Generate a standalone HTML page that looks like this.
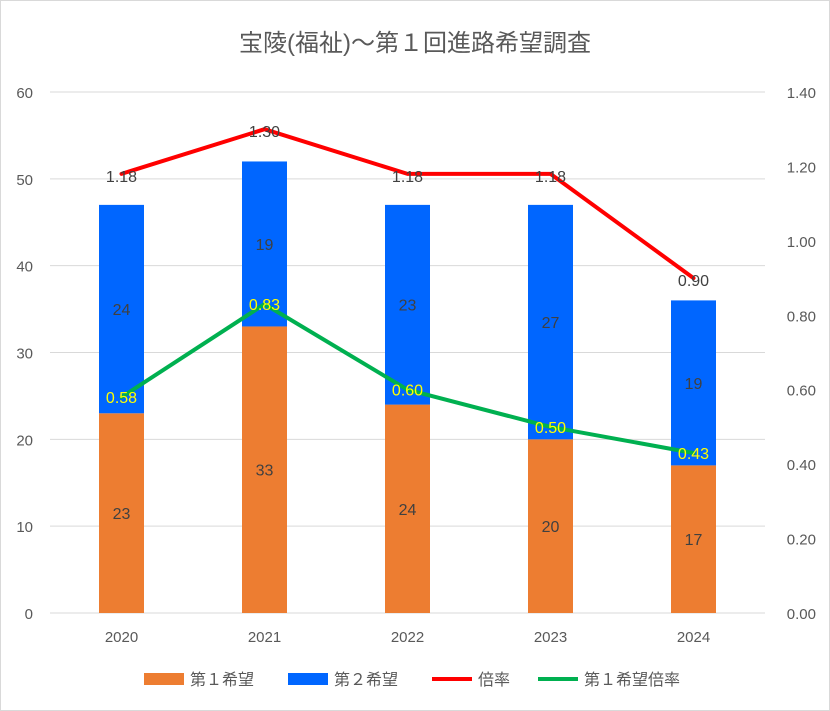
<!DOCTYPE html>
<html><head><meta charset="utf-8">
<style>
body{margin:0;background:#fff;}
svg{display:block;font-family:"Liberation Sans","Noto Sans CJK JP",sans-serif;}
</style></head>
<body>
<svg id="c" width="830" height="711" xmlns="http://www.w3.org/2000/svg">
<rect x="0.5" y="0.5" width="829" height="710" fill="#fff" stroke="#d9d9d9"/>
<text x="415" y="51" text-anchor="middle" font-size="24" fill="#595959">宝陵(福祉)～第１回進路希望調査</text>
<g id="grid"></g><g id="bars"></g><g id="lines"></g><g id="labels"></g>
<g>
<rect x="144" y="673" width="40" height="12" fill="#ED7D31"/>
<text x="190" y="685" font-size="16" fill="#595959">第１希望</text>
<rect x="288" y="673" width="40" height="12" fill="#0066FF"/>
<text x="334" y="685" font-size="16" fill="#595959">第２希望</text>
<line x1="432" y1="679" x2="472" y2="679" stroke="#FF0000" stroke-width="4"/>
<text x="478" y="685" font-size="16" fill="#595959">倍率</text>
<line x1="538" y1="679" x2="578" y2="679" stroke="#00B050" stroke-width="4"/>
<text x="584" y="685" font-size="16" fill="#595959">第１希望倍率</text>
</g>
</svg>
<script>
const categories=["2020","2021","2022","2023","2024"];
const first=[23,33,24,20,17];
const second=[24,19,23,27,19];
const ratio=[1.18,1.30,1.18,1.18,0.90];
const firstRatio=[0.58,0.83,0.60,0.50,0.43];
const leftTicks=[0,10,20,30,40,50,60];
const rightTicks=[0,0.2,0.4,0.6,0.8,1.0,1.2,1.4];
const NS="http://www.w3.org/2000/svg";
const y0=613,yTop=92,x0=50,x1=765;
const yL=v=>y0-v/60*(y0-yTop);
const yR=v=>y0-v/1.4*(y0-yTop);
const xC=i=>x0+(i+0.5)*(x1-x0)/categories.length;
function mk(p,t,a,txt){const e=document.createElementNS(NS,t);for(const k in a)e.setAttribute(k,a[k]);if(txt!==undefined)e.textContent=txt;p.appendChild(e);return e;}
const G=document.getElementById('grid'),B=document.getElementById('bars'),L=document.getElementById('lines'),T=document.getElementById('labels');
leftTicks.forEach(v=>{
 const l=mk(G,'line',{x1:x0,x2:x1,y1:yL(v),y2:yL(v),stroke:'#d9d9d9','stroke-width':1});
 
 
 const t=mk(G,'text',{x:33,y:yL(v)+6,'text-anchor':'end','font-size':15,fill:'#595959'},v);
 
 
});
rightTicks.forEach(v=>{
 const t=mk(G,'text',{x:816,y:yR(v)+6,'text-anchor':'end','font-size':15,fill:'#595959'},v.toFixed(2));
 
 
});
categories.forEach((c,i)=>{
 const t=mk(G,'text',{x:xC(i),y:642,'text-anchor':'middle','font-size':15,fill:'#595959'},c);
 
 
 const w=45,x=xC(i)-w/2;
 const b1=mk(B,'rect',{x:x,y:yL(first[i]),width:w,height:y0-yL(first[i]),fill:'#ED7D31'});
 
 
 const b2=mk(B,'rect',{x:x,y:yL(first[i]+second[i]),width:w,height:yL(first[i])-yL(first[i]+second[i]),fill:'#0066FF'});
 
 
 const t1=mk(T,'text',{x:xC(i),y:(y0+yL(first[i]))/2+6,'text-anchor':'middle','font-size':16,fill:'#404040'},first[i]);
 
 
 const t2=mk(T,'text',{x:xC(i),y:(yL(first[i])+yL(first[i]+second[i]))/2+6,'text-anchor':'middle','font-size':16,fill:'#404040'},second[i]);
 
 
});
function line(arr,col,name){
 const p=mk(L,'polyline',{points:arr.map((v,i)=>xC(i)+','+yR(v)).join(' '),fill:'none',stroke:col,'stroke-width':4,'stroke-linejoin':'round','stroke-linecap':'round'});
 
 
}
line(ratio,'#FF0000','ratio-line');
line(firstRatio,'#00B050','first-ratio-line');
ratio.forEach((v,i)=>{
 const t=mk(T,'text',{x:xC(i),y:yR(v)+8,'text-anchor':'middle','font-size':16,fill:'#404040'},v.toFixed(2));
 
 
});
firstRatio.forEach((v,i)=>{
 const t=mk(T,'text',{x:xC(i),y:yR(v)+6,'text-anchor':'middle','font-size':16,fill:'#FFFF00'},v.toFixed(2));
 
 
});
</script>
</body></html>
